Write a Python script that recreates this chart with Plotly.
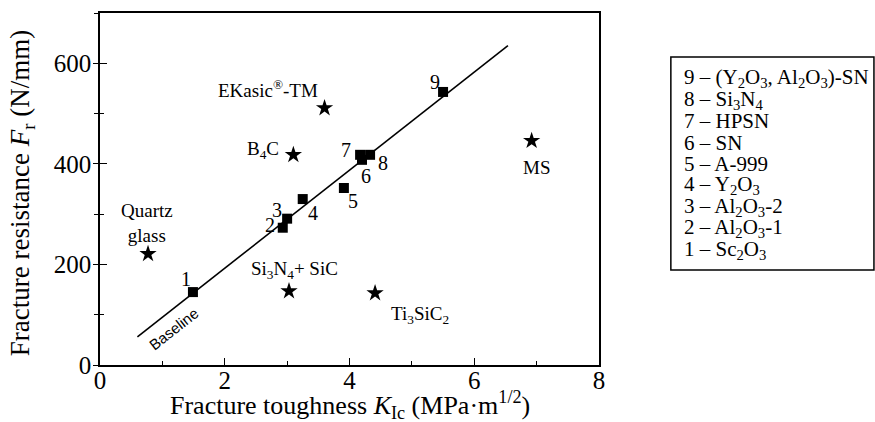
import plotly.graph_objects as go

# squares: numbered materials
sq_x = [1.49, 2.93, 3.0, 3.25, 3.91, 4.2, 4.17, 4.33, 5.5]
sq_y = [145, 273, 291, 330, 352, 408, 418, 418, 543]
sq_lbl = ["1", "2", "3", "4", "5", "6", "7", "8", "9"]
sq_lbl_x = [1.38, 2.72, 2.84, 3.42, 4.06, 4.27, 3.95, 4.53, 5.37]
sq_lbl_y = [171, 279, 308, 302, 326, 376, 428, 402, 563]

# stars: other materials
st_x = [3.6, 3.1, 0.77, 3.03, 4.41, 6.92]
st_y = [511, 418, 221, 147, 143, 446]
st_lbl = ["EKasic<sup>®</sup>-TM", "B<sub>4</sub>C", "Quartz<br>glass",
          "Si<sub>3</sub>N<sub>4</sub>+ SiC", "Ti<sub>3</sub>SiC<sub>2</sub>", "MS"]
st_lbl_x = [2.7, 2.62, 0.75, 3.12, 5.13, 7.0]
st_lbl_y = [549, 428, 283, 189, 100, 392]

# baseline
base_x = [0.6, 6.54]
base_y = [56, 635]

legend_items = ["9 – (Y<sub>2</sub>O<sub>3</sub>, Al<sub>2</sub>O<sub>3</sub>)-SN",
                "8 – Si<sub>3</sub>N<sub>4</sub>", "7 – HPSN", "6 – SN", "5 – A-999",
                "4 – Y<sub>2</sub>O<sub>3</sub>", "3 – Al<sub>2</sub>O<sub>3</sub>-2",
                "2 – Al<sub>2</sub>O<sub>3</sub>-1", "1 – Sc<sub>2</sub>O<sub>3</sub>"]

x_ticks = [0, 2, 4, 6, 8]
x_minor = [1, 3, 5, 7]
y_ticks = [0, 200, 400, 600]
y_minor = [100, 300, 500, 700]

x_title = "Fracture toughness <i>K</i><sub>Ic</sub> (MPa·m<sup>1/2</sup>)"
y_title = "Fracture resistance <i>F</i><sub>r</sub> (N/mm)"

SERIF = "Liberation Serif"

fig = go.Figure()
fig.add_trace(go.Scatter(x=base_x, y=base_y, mode="lines",
                         line=dict(color="black", width=1.6), showlegend=False))
fig.add_trace(go.Scatter(x=sq_x, y=sq_y, mode="markers",
                         marker=dict(symbol="square", size=10, color="black"), showlegend=False))
fig.add_trace(go.Scatter(x=st_x, y=st_y, mode="markers", yaxis="y2",
                         marker=dict(symbol="star", size=13, color="black"), showlegend=False))

for t, x, y in zip(sq_lbl, sq_lbl_x, sq_lbl_y):
    fig.add_annotation(x=x, y=y, text=t, showarrow=False,
                       font=dict(family=SERIF, size=20, color="black"))
for t, x, y in zip(st_lbl, st_lbl_x, st_lbl_y):
    fig.add_annotation(x=x, y=y, text=t, showarrow=False,
                       font=dict(family=SERIF, size=19, color="black"))

fig.add_annotation(x=1.19, y=72, text="Baseline", showarrow=False, textangle=-38,
                   font=dict(family="Liberation Sans", size=15, color="black"))

# axis titles
fig.add_annotation(xref="paper", yref="paper", x=0.501, y=-0.115, text=x_title,
                   showarrow=False, xanchor="center", yanchor="middle",
                   font=dict(family=SERIF, size=26, color="black"))
fig.add_annotation(xref="paper", yref="paper", x=-0.157, y=0.487, text=y_title,
                   showarrow=False, xanchor="center", yanchor="middle", textangle=-90,
                   font=dict(family=SERIF, size=27, color="black"))

# legend box
fig.add_shape(type="rect", xref="paper", yref="paper", x0=1.144, x1=1.551, y0=0.27, y1=0.875,
              line=dict(color="black", width=1.5))
n = len(legend_items)
for i, t in enumerate(legend_items):
    yp = 0.815 - i * (0.815 - 0.327) / (n - 1)
    fig.add_annotation(xref="paper", yref="paper", x=1.166, y=yp, text=t, showarrow=False,
                       xanchor="left", yanchor="middle",
                       font=dict(family=SERIF, size=21, color="black"))

axis_common = dict(showline=True, linecolor="black", linewidth=1.5, mirror=True,
                   tickwidth=1.2, tickcolor="black", automargin=False,
                   showgrid=False, zeroline=False,
                   tickfont=dict(family=SERIF, size=25, color="black"))

fig.update_xaxes(range=[0, 8], tickvals=x_ticks, ticks="inside", ticklen=7,
                 ticklabelstandoff=-8,
                 minor=dict(tickvals=x_minor, ticks="inside", ticklen=4, tickcolor="black"),
                 **axis_common)
fig.update_yaxes(range=[0, 700], tickvals=y_ticks, ticks="outside", ticklen=5,
                 ticklabelstandoff=-3,
                 minor=dict(tickvals=y_minor, ticks="outside", ticklen=4, tickcolor="black"),
                 **axis_common)

fig.update_layout(
    yaxis2=dict(overlaying="y", matches="y", side="left", anchor="x",
                range=[0, 700], tickvals=y_ticks, ticks="inside", ticklen=7,
                tickwidth=1.2, tickcolor="black", showticklabels=False,
                minor=dict(tickvals=y_minor, ticks="inside", ticklen=4, tickcolor="black"),
                showline=False, showgrid=False, zeroline=False, automargin=False),
    width=875, height=422, margin=dict(l=100, r=276, t=13, b=57),
    plot_bgcolor="white", paper_bgcolor="white", showlegend=False,
    font=dict(family=SERIF, color="black"))

fig.write_html("out.html")
